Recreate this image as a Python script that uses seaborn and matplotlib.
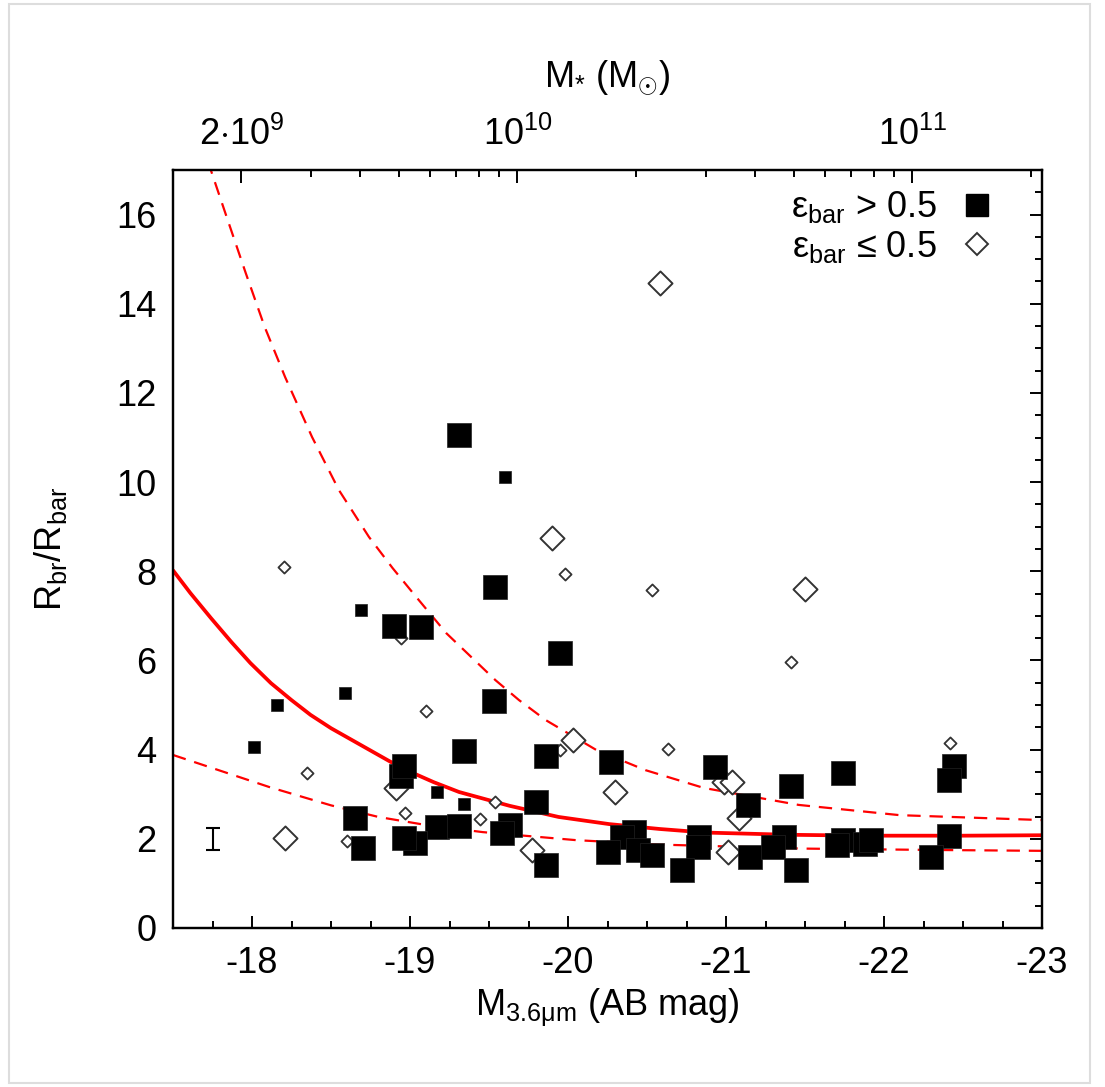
import numpy as np
import pandas as pd
import seaborn as sns
import matplotlib.pyplot as plt
from matplotlib.lines import Line2D
from matplotlib.patches import Rectangle
from matplotlib.ticker import MultipleLocator, FixedLocator, NullFormatter

# datos (M_3.6um, R_br/R_bar)
cuad_grande_x = [-19.31, -19.54, -18.90, -19.07, -19.95, -19.53, -19.34, -19.86, -18.94, -18.96,
                 -20.27, -20.93, -19.80, -18.65, -18.70, -19.17, -19.31, -19.03, -18.96, -19.63,
                 -19.58, -19.86, -20.42, -20.34, -20.25, -20.44, -20.53, -20.83, -20.82, -20.72,
                 -21.14, -21.15, -21.41, -21.37, -21.30, -21.44, -21.74, -21.74, -21.70, -21.88,
                 -21.92, -22.44, -22.41, -22.41, -22.30]
cuad_grande_y = [11.05, 7.65, 6.77, 6.75, 6.17, 5.09, 3.97, 3.86, 3.40, 3.63,
                 3.72, 3.61, 2.83, 2.47, 1.79, 2.26, 2.29, 1.91, 2.02, 2.31,
                 2.13, 1.41, 2.15, 2.04, 1.70, 1.75, 1.64, 2.04, 1.82, 1.30,
                 2.76, 1.59, 3.18, 2.04, 1.82, 1.30, 3.48, 1.97, 1.86, 1.88,
                 1.97, 3.63, 3.32, 2.06, 1.59]

cuad_chico_x = [-18.01, -18.16, -18.59, -18.69, -19.60, -19.17, -19.34]
cuad_chico_y = [4.06, 5.00, 5.27, 7.13, 10.11, 3.05, 2.78]

diam_grande_x = [-20.58, -19.90, -21.50, -18.91, -18.21, -20.03, -20.30, -19.77, -20.99, -21.04, -21.08, -21.01]
diam_grande_y = [14.46, 8.74, 7.60, 3.14, 2.02, 4.22, 3.05, 1.75, 3.27, 3.27, 2.47, 1.70]

diam_chico_x = [-18.20, -18.35, -18.60, -18.94, -19.10, -18.97, -19.44, -19.54, -19.98, -19.95, -20.53, -20.63, -21.41, -22.42]
diam_chico_y = [8.09, 3.48, 1.95, 6.50, 4.87, 2.58, 2.44, 2.83, 7.94, 3.99, 7.58, 4.01, 5.96, 4.15]

# curvas (ajuste y limites) leidas punto a punto
ajuste_x = [-17.5, -17.61, -17.74, -17.87, -17.99, -18.12, -18.25, -18.37, -18.50, -18.63, -18.75,
            -18.87, -18.99, -19.15, -19.31, -19.63, -19.94, -20.26, -20.58, -20.87, -21.4, -21.89, -22.5, -23.0]
ajuste_y = [8.02, 7.51, 6.95, 6.41, 5.94, 5.49, 5.11, 4.78, 4.48, 4.22, 3.98,
            3.74, 3.52, 3.27, 3.05, 2.74, 2.49, 2.33, 2.22, 2.14, 2.09, 2.07, 2.07, 2.08]

sup_x = [-17.72, -17.84, -17.96, -18.08, -18.21, -18.38, -18.55, -18.74, -18.89, -19.04, -19.23,
         -19.54, -19.69, -19.86, -20.18, -20.49, -20.86, -21.46, -22.1, -23.0]
sup_y = [17.2, 15.94, 14.69, 13.48, 12.35, 11.01, 9.82, 8.77, 8.07, 7.42, 6.61,
         5.56, 5.11, 4.66, 3.99, 3.54, 3.14, 2.76, 2.53, 2.42]

inf_x = [-17.5, -18.11, -18.50, -18.80, -19.10, -19.46, -20.05, -20.58, -21.5, -22.3, -23.0]
inf_y = [3.88, 3.16, 2.75, 2.49, 2.31, 2.15, 1.97, 1.87, 1.78, 1.75, 1.73]

# barra de error tipica
err_x, err_y, err_dy = -17.75, 2.0, 0.25

# eje superior: masa estelar
masas_mayores = [2e9, 1e10, 1e11]
etiquetas_masas = [r'2$\cdot$10$^{9}$', r'10$^{10}$', r'10$^{11}$']
masas_menores = [3e9, 4e9, 5e9, 6e9, 7e9, 8e9, 9e9, 2e10, 3e10, 4e10, 5e10, 6e10, 7e10, 8e10, 9e10, 2e11]
MAG_1E10 = -19.68

def masa_a_mag(m):
    return MAG_1E10 - 2.5 * (np.log10(m) - 10)

sns.set_style('white')
plt.rcParams['font.family'] = ['Liberation Sans', 'DejaVu Sans']
plt.rcParams['mathtext.fontset'] = 'custom'
plt.rcParams['mathtext.rm'] = 'Liberation Sans'
plt.rcParams['mathtext.it'] = 'Liberation Sans:italic'
plt.rcParams['mathtext.bf'] = 'Liberation Sans:bold'
for k in ['text.color', 'axes.labelcolor', 'xtick.color', 'ytick.color', 'axes.edgecolor']:
    plt.rcParams[k] = 'black'

FS = 26

fig = plt.figure(figsize=(11.05, 10.87), dpi=100)
ax = fig.add_axes([0.1566, 0.1463, 0.7864, 0.6973])

sns.lineplot(x=ajuste_x, y=ajuste_y, ax=ax, color='red', lw=2.7, sort=False, estimator=None, zorder=1)
sns.lineplot(x=sup_x, y=sup_y, ax=ax, color='red', lw=1.6, sort=False, estimator=None,
             linestyle=(0, (6, 4)), zorder=1)
sns.lineplot(x=inf_x, y=inf_y, ax=ax, color='red', lw=1.6, sort=False, estimator=None,
             linestyle=(0, (6, 4)), zorder=1)

sns.scatterplot(x=diam_grande_x, y=diam_grande_y, ax=ax, marker='D', s=150, facecolor='white',
                edgecolor='#333333', linewidth=1.4, zorder=2)
sns.scatterplot(x=diam_chico_x, y=diam_chico_y, ax=ax, marker='D', s=38, facecolor='white',
                edgecolor='#333333', linewidth=1.3, zorder=2)
sns.scatterplot(x=cuad_grande_x, y=cuad_grande_y, ax=ax, marker='s', s=280, color='black',
                edgecolor='#222222', linewidth=0.5, zorder=3)
sns.scatterplot(x=cuad_chico_x, y=cuad_chico_y, ax=ax, marker='s', s=75, color='black',
                edgecolor='#222222', linewidth=0.5, zorder=3)

ax.errorbar(err_x, err_y, yerr=err_dy, color='black', capsize=5, lw=1.5, capthick=1.5, zorder=3)

ax.set_xlim(-17.5, -23)
ax.set_ylim(0, 17)
ax.xaxis.set_minor_locator(MultipleLocator(0.25))
ax.yaxis.set_major_locator(MultipleLocator(2))
ax.yaxis.set_minor_locator(MultipleLocator(0.5))
ax.set_xticks([-18, -19, -20, -21, -22, -23])
ax.set_xticklabels(['-18', '-19', '-20', '-21', '-22', '-23'])
ax.tick_params(which='both', direction='in', labelsize=FS, top=False, right=True, width=1.4, pad=12)
ax.tick_params(axis='x', which='both', pad=13)
ax.tick_params(which='major', length=9)
ax.tick_params(which='minor', length=5)
for s in ax.spines.values():
    s.set_linewidth(1.6)

ax.set_xlabel(r'M$_{\mathrm{3.6μm}}$ (AB mag)', fontsize=FS, labelpad=4)
ax.set_ylabel(r'R$_{\mathrm{br}}$/R$_{\mathrm{bar}}$', fontsize=FS, labelpad=34)

ax2 = ax.twiny()
ax2.set_xlim(ax.get_xlim())
ax2.xaxis.set_major_locator(FixedLocator([masa_a_mag(m) for m in masas_mayores]))
ax2.set_xticklabels(etiquetas_masas)
ax2.xaxis.set_minor_locator(FixedLocator([masa_a_mag(m) for m in masas_menores]))
ax2.xaxis.set_minor_formatter(NullFormatter())
ax2.tick_params(which='both', direction='in', labelsize=FS, width=1.4, pad=12)
ax2.tick_params(which='major', length=9)
ax2.tick_params(which='minor', length=5)
ax2.set_xlabel(r'M$_{*}$ (M$_{\odot}$)', fontsize=FS, labelpad=22)
for s in ax2.spines.values():
    s.set_linewidth(1.6)

handles = [Line2D([], [], marker='s', ls='none', color='black', markersize=16),
           Line2D([], [], marker='D', ls='none', mfc='white', mec='#333333', mew=1.4, markersize=11)]
labels = [r'ε$_{\mathrm{bar}}$ > 0.5', r'ε$_{\mathrm{bar}}$ ≤ 0.5']
ax.legend(handles, labels, loc='upper right', bbox_to_anchor=(1 - 22 / 869, 1 + 6 / 758),
          frameon=False, markerfirst=False, fontsize=FS,
          handletextpad=0.6, handlelength=1.0, labelspacing=0.1, borderaxespad=0.3)

fig.patches.append(Rectangle((0.008, 0.004), 0.978, 0.992, transform=fig.transFigure,
                             fill=False, ec='#dddddd', lw=1.5))

fig.savefig('out.png', dpi=100)
